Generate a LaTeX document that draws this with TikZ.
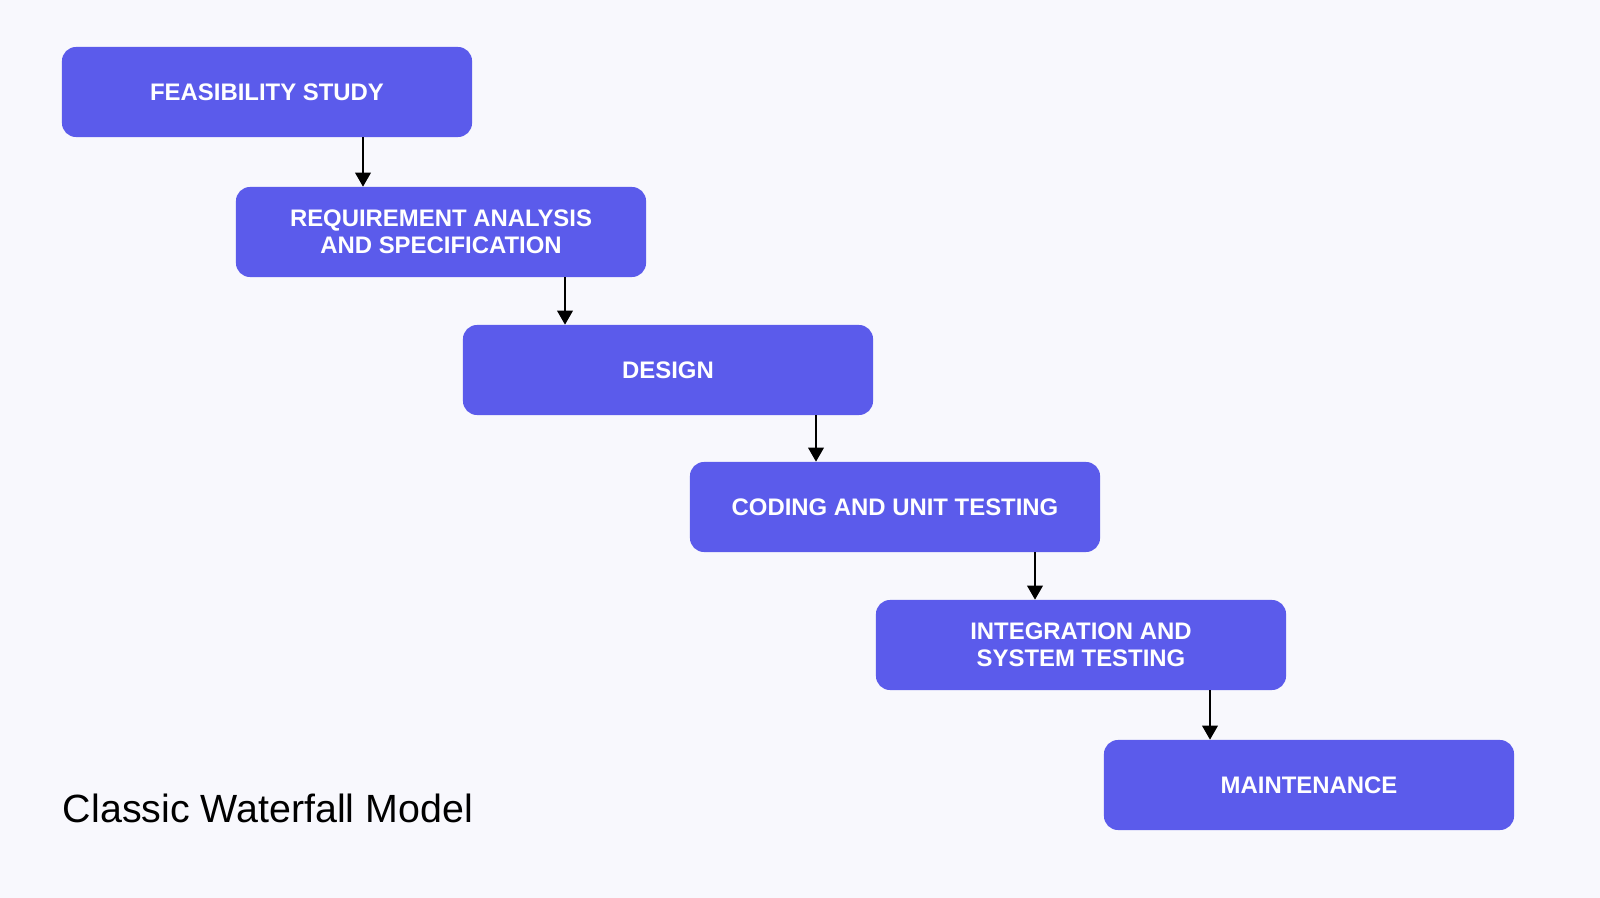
\documentclass[tikz,border=0pt]{standalone}
\usepackage{fontspec}
\setmainfont{Liberation Sans}
\usetikzlibrary{arrows.meta}
\definecolor{phaseblue}{HTML}{5B5BEB}
\definecolor{pagebg}{HTML}{F8F8FD}
\tikzset{
  phase/.style = {fill=phaseblue, rounded corners=10pt, minimum width=10.25cm, minimum height=2.25cm,
    text=white, font=\fontsize{17}{19}\selectfont\bfseries, align=center, inner sep=0pt},
  flow/.style = {-{Triangle[length=10pt,width=11pt]}, line width=1.6pt, black}
}
\begin{document}
\begin{tikzpicture}[x=0.025cm, y=-0.025cm]

	\fill[pagebg] (0, 0) rectangle (1600, 898);
	\useasboundingbox (0, 0) rectangle (1600, 898);

	\node[phase] (feas) at (267, 92) {FEASIBILITY STUDY};
	\node[phase] (req) at (441, 232) {REQUIREMENT ANALYSIS\\AND SPECIFICATION};
	\node[phase] (des) at (668, 370) {DESIGN};
	\node[phase] (code) at (895, 507) {CODING AND UNIT TESTING};
	\node[phase] (integ) at (1081, 645) {INTEGRATION AND\\SYSTEM TESTING};
	\node[phase] (maint) at (1309, 785) {MAINTENANCE};

	\coordinate (x1) at (363, 0);
	\coordinate (x2) at (565, 0);
	\coordinate (x3) at (816, 0);
	\coordinate (x4) at (1035, 0);
	\coordinate (x5) at (1210, 0);

	\draw[flow] (feas.south -| x1) -- (req.north -| x1);
	\draw[flow] (req.south -| x2) -- (des.north -| x2);
	\draw[flow] (des.south -| x3) -- (code.north -| x3);
	\draw[flow] (code.south -| x4) -- (integ.north -| x4);
	\draw[flow] (integ.south -| x5) -- (maint.north -| x5);

	\node[anchor=west, font=\fontsize{28}{32}\selectfont] (title) at (58, 808) {Classic Waterfall Model};

\end{tikzpicture}
\end{document}
